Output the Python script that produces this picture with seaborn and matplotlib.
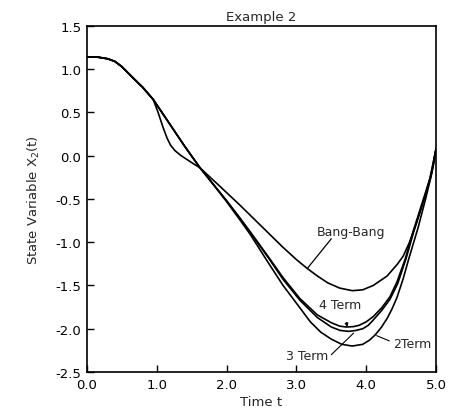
import numpy as np
import pandas as pd
import matplotlib
matplotlib.use("Agg")
import matplotlib.pyplot as plt
import seaborn as sns

# values
t_bang = [0, 0.15, 0.3, 0.4, 0.5, 0.66, 0.8, 0.95, 1.02, 1.09, 1.15, 1.2, 1.26, 1.35, 1.52, 1.62, 1.9,
          2.19, 2.43, 2.62, 2.81, 3.0, 3.15, 3.3, 3.45, 3.62, 3.8, 3.95, 4.1, 4.3, 4.45, 4.53, 4.62,
          4.7, 4.77, 4.84, 4.9, 4.96, 5.0]
x2_bang = [1.14, 1.14, 1.12, 1.09, 1.03, 0.9, 0.79, 0.65, 0.5, 0.33, 0.2, 0.12, 0.06, 0.0, -0.09, -0.14, -0.35,
           -0.57, -0.76, -0.91, -1.06, -1.2, -1.3, -1.39, -1.47, -1.53, -1.56, -1.55, -1.5, -1.39, -1.25, -1.16, -1.0,
           -0.82, -0.65, -0.47, -0.3, -0.12, 0.08]

t_4term = [0, 0.15, 0.3, 0.4, 0.5, 0.66, 0.8, 0.95, 1.1, 1.25, 1.4, 1.62, 1.76, 2.0, 2.19, 2.34, 2.6, 2.81,
           3.05, 3.3, 3.5, 3.62, 3.72, 3.82, 3.9, 4.0, 4.1, 4.22, 4.34, 4.44, 4.56, 4.67, 4.78, 4.91, 5.0]
x2_4term = [1.14, 1.14, 1.12, 1.09, 1.03, 0.9, 0.79, 0.65, 0.47, 0.29, 0.11, -0.14, -0.28, -0.52, -0.72, -0.88,
            -1.17, -1.41, -1.65, -1.84, -1.93, -1.97, -1.98, -1.975, -1.96, -1.92, -1.86, -1.76, -1.63, -1.46,
            -1.19, -0.88, -0.6, -0.27, 0.08]

t_3term = [0, 0.15, 0.3, 0.4, 0.5, 0.66, 0.8, 0.95, 1.1, 1.25, 1.4, 1.62, 1.76, 2.0, 2.19, 2.34, 2.6, 2.81,
           3.05, 3.3, 3.5, 3.63, 3.75, 3.85, 3.95, 4.03, 4.1, 4.22, 4.34, 4.45, 4.57, 4.68, 4.79, 4.92, 5.0]
x2_3term = [1.14, 1.14, 1.12, 1.09, 1.03, 0.9, 0.79, 0.65, 0.47, 0.29, 0.11, -0.14, -0.28, -0.52, -0.72, -0.89,
            -1.18, -1.43, -1.67, -1.87, -1.98, -2.02, -2.03, -2.02, -2.0, -1.96, -1.9, -1.79, -1.66, -1.48,
            -1.19, -0.88, -0.6, -0.26, 0.08]

t_2term = [0, 0.15, 0.3, 0.4, 0.5, 0.66, 0.8, 0.95, 1.1, 1.25, 1.4, 1.62, 1.76, 2.0, 2.19, 2.34, 2.6, 2.81,
           2.95, 3.2, 3.35, 3.5, 3.65, 3.8, 3.95, 4.05, 4.13, 4.22, 4.3, 4.37, 4.44, 4.53, 4.61, 4.74, 4.85,
           4.94, 5.0]
x2_2term = [1.14, 1.14, 1.12, 1.09, 1.03, 0.9, 0.79, 0.65, 0.47, 0.29, 0.11, -0.14, -0.28, -0.53, -0.74, -0.91,
            -1.24, -1.5, -1.65, -1.92, -2.04, -2.12, -2.18, -2.2, -2.18, -2.13, -2.07, -1.98, -1.88, -1.77,
            -1.64, -1.42, -1.19, -0.84, -0.5, -0.2, 0.08]

series = {"Bang-Bang": (t_bang, x2_bang), "4 Term": (t_4term, x2_4term),
          "3 Term": (t_3term, x2_3term), "2Term": (t_2term, x2_2term)}
df = pd.concat([pd.DataFrame({"t": t, "x2": x, "case": k}) for k, (t, x) in series.items()],
               ignore_index=True)

sns.set_style("ticks")
plt.rcParams["font.family"] = ["DejaVu Sans"]

fig = plt.figure(figsize=(4.5, 4.14), dpi=100)
ax = fig.add_axes([0.193, 0.099, 0.776, 0.836])

sns.lineplot(data=df, x="t", y="x2", hue="case", units="case", estimator=None, sort=False,
             palette=["black"] * 4, linewidth=1.2, legend=False, ax=ax)

ax.set_xlim(0, 5)
ax.set_ylim(-2.5, 1.5)
ax.set_xticks(np.arange(0, 5.01, 1.0))
ax.set_xticklabels([f"{v:.1f}" for v in np.arange(0, 5.01, 1.0)])
ax.set_yticks(np.arange(-2.5, 1.51, 0.5))
ax.set_yticklabels([f"{v:.1f}" for v in np.arange(-2.5, 1.51, 0.5)])
ax.tick_params(direction="in", length=5, width=1, labelsize=9.5, colors="black", pad=4)
for s in ax.spines.values():
    s.set_linewidth(1.2)
    s.set_color("black")

ax.set_title("Example 2", fontsize=9.5, pad=4)
ax.set_xlabel("Time t", fontsize=9.5, labelpad=3)
ax.set_ylabel("State Variable X$_2$(t)", fontsize=9.5, labelpad=10)

# curve labels with leader lines
ax.text(3.78, -0.88, "Bang-Bang", fontsize=9, ha="center", va="center")
ax.plot([3.5, 3.16], [-0.96, -1.3], color="black", lw=0.9)
ax.annotate("4 Term", xy=(3.73, -1.98), xytext=(3.62, -1.72), fontsize=9, ha="center", va="center",
            arrowprops=dict(arrowstyle="-|>", color="black", lw=0.8, mutation_scale=5,
                            shrinkA=6, shrinkB=0, relpos=(0.6, 0)))
ax.text(3.15, -2.31, "3 Term", fontsize=9, ha="center", va="center")
ax.plot([3.5, 3.82], [-2.3, -2.05], color="black", lw=0.8)
ax.text(4.66, -2.17, "2Term", fontsize=9, ha="center", va="center")
ax.plot([4.33, 4.15], [-2.14, -2.08], color="black", lw=0.8)

fig.savefig("out.png", dpi=100)
